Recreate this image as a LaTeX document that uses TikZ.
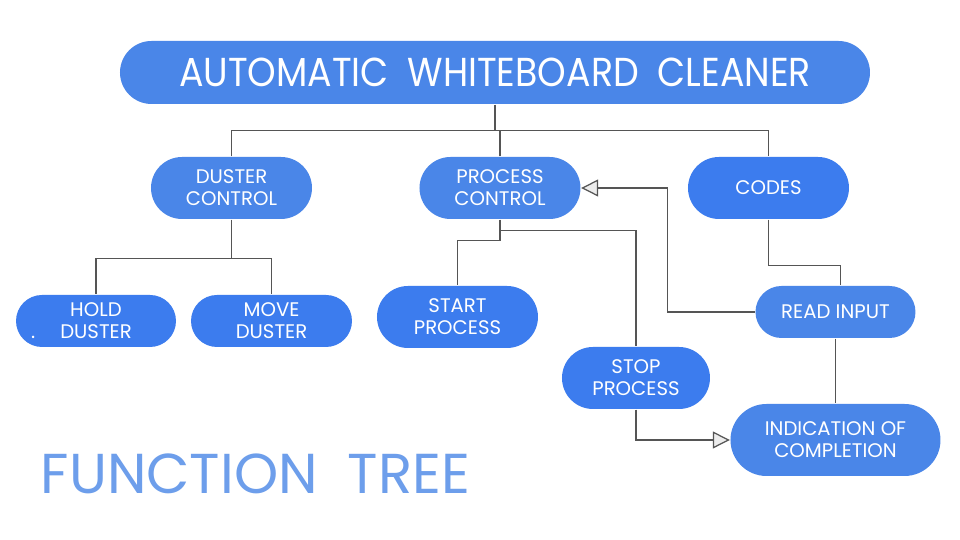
\documentclass[tikz,border=0pt]{standalone}
\usepackage{fontspec}
\setmainfont{Poppins}
\usetikzlibrary{shapes.misc,arrows.meta}
\definecolor{boxblue}{RGB}{74,134,232}
\definecolor{boxbright}{RGB}{60,124,238}
\definecolor{headblue}{RGB}{109,158,235}
\definecolor{wire}{RGB}{85,85,85}
\tikzset{
    func/.style={rounded rectangle, fill=boxblue, text=white, align=center, inner sep=0pt,
        minimum width=1.61cm, minimum height=0.62cm, font=\fontsize{5.6}{6.3}\selectfont},
    bright/.style={fill=boxbright},
    wires/.style={draw=wire, line width=0.35pt},
    tri/.style={-{Triangle[open, fill=gray!15, length=0.17cm, width=0.17cm]}}
}
\begin{document}
\begin{tikzpicture}
        \useasboundingbox[fill=white] (0, 0) rectangle (9.6, 5.4);
        \begin{scope}
            \node[func, minimum width=7.5cm, minimum height=0.63cm, font=\fontsize{11.5}{13}\selectfont] (top) at (4.95, 4.675) {\scalebox{0.9}[1]{AUTOMATIC\hspace{0.1cm} WHITEBOARD\hspace{0.1cm} CLEANER}};
            \node[func] (duster) at (2.315, 3.52) {DUSTER\\CONTROL};
            \node[func] (process) at (5.0, 3.52) {PROCESS\\CONTROL};
            \node[func, bright] (codes) at (7.685, 3.52) {CODES};
            \node[func, bright, minimum height=0.52cm, minimum width=1.6cm] (hold) at (0.96, 2.19) {HOLD\\\llap{.\hspace{0.25cm}}DUSTER};
            \node[func, bright, minimum height=0.52cm] (move) at (2.715, 2.19) {MOVE\\DUSTER};
            \node[func, bright] (start) at (4.575, 2.23) {START\\PROCESS};
            \node[func, bright, minimum width=1.48cm] (stop) at (6.36, 1.62) {STOP\\PROCESS};
            \node[func, minimum width=1.6cm, minimum height=0.52cm] (read) at (8.355, 2.28) {READ INPUT};
            \node[func, minimum width=2.1cm, minimum height=0.72cm] (indic) at (8.355, 1.0) {INDICATION OF\\COMPLETION};
            \node[anchor=west, text=headblue, inner sep=0pt, font=\fontsize{16}{18}\selectfont] (fname) at (0.4, 0.66) {FUNCTION\hspace{0.15cm} TREE};

            \draw[wires] (top.south) -- ++(0, -0.26) coordinate (hub);
            \draw[wires] (duster.north) |- (hub) -| (codes.north);
            \draw[wires] (process.north) -- (process.north |- hub);
            \draw[wires] (duster.south) -- ++(0, -0.39) coordinate (split);
            \draw[wires] (split) -| (hold.north);
            \draw[wires] (split) -| (move.north);
            \draw[wires] (process.south) -- ++(0, -0.21) -| (start.north);
            \draw[wires] ([yshift=-0.11cm]process.south) -| (stop.north);
            \draw[wires] (codes.south) -- ++(0, -0.46) -| ([xshift=0.05cm]read.north);
            \draw[wires, tri] (read.west) -- ++(-0.87, 0) |- (process.east);
            \draw[wires] (read.south) -- (indic.north);
            \draw[wires, tri] (stop.south) |- (indic.west);
        \end{scope}
    \end{tikzpicture}
\end{document}
